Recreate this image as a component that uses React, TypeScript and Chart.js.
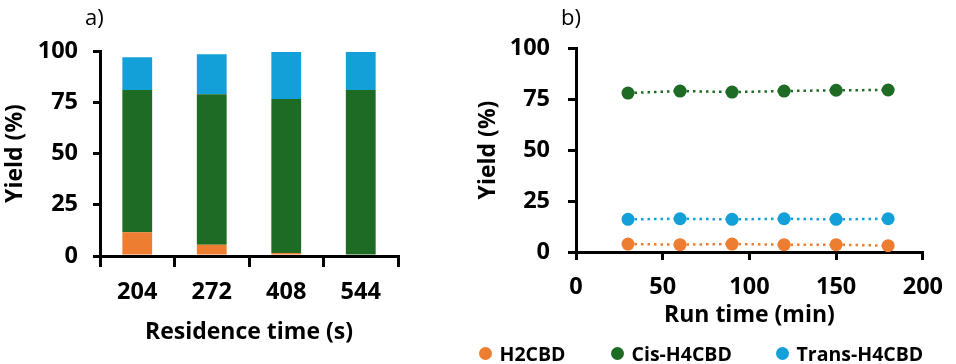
import React, { useEffect, useRef } from "react";
import { Chart, registerables } from "chart.js";

Chart.register(...registerables);

// ---- data ----
const residenceTimes = ["204", "272", "408", "544"];
const barH2CBD = [11.6, 5.5, 1.5, 0];
const barCis = [69.4, 73.4, 75.1, 81.0];
const barTrans = [16.0, 19.5, 22.9, 18.5];

const runTimes = [30, 60, 90, 120, 150, 180];
const lineH2CBD = [3.9, 3.6, 3.9, 3.6, 3.6, 3.1];
const lineCis = [77.9, 78.9, 78.4, 78.9, 79.3, 79.4];
const lineTrans = [16.0, 16.3, 16.0, 16.3, 16.0, 16.3];

const seriesNames = ["H2CBD", "Cis-H4CBD", "Trans-H4CBD"];
const seriesColors = ["#ED7D31", "#1E6B24", "#13A0D8"];

const FONT = "'Open Sans', sans-serif";
const tickFont = { family: FONT, size: 23.5, weight: "bold" as const };
const titleFont = { family: FONT, size: 23, weight: "bold" as const };

function BarPanel() {
  const ref = useRef<HTMLCanvasElement>(null);
  useEffect(() => {
    const values = [barH2CBD, barCis, barTrans];
    const chart = new Chart(ref.current!, {
      type: "bar",
      data: {
        labels: residenceTimes,
        datasets: seriesNames.map((n, i) => ({
          label: n,
          data: values[i],
          backgroundColor: seriesColors[i],
          borderWidth: 0,
          barPercentage: 0.4,
          categoryPercentage: 1,
        })),
      },
      options: {
        responsive: false,
        animation: false,
        layout: { padding: { top: 51, right: 22, left: 0, bottom: 0 } },
        plugins: { legend: { display: false }, tooltip: { enabled: false } },
        scales: {
          x: {
            stacked: true,
            grid: { display: true, drawOnChartArea: false, tickLength: 11, lineWidth: 3, color: "#000", offset: true },
            border: { display: true, color: "#000", width: 3 },
            ticks: { color: "#000", font: tickFont, padding: 11 },
            title: { display: true, text: "Residence time (s)", color: "#000", font: titleFont, padding: { top: 0, bottom: 18 } },
            afterFit: (s: any) => { s.height = 108; },
          },
          y: {
            stacked: true,
            min: 0,
            max: 100,
            grid: { display: true, drawOnChartArea: false, tickLength: 7, lineWidth: 3, color: "#000" },
            border: { display: true, color: "#000", width: 3 },
            ticks: { stepSize: 25, color: "#000", font: tickFont, padding: 15 },
            title: { display: true, text: "Yield (%)", color: "#000", font: titleFont, padding: { top: 2, bottom: 0 } },
            afterFit: (s: any) => { s.width = 100; },
          },
        },
      },
    });
    return () => chart.destroy();
  }, []);
  return <canvas ref={ref} width={420} height={364} style={{ position: "absolute", left: 0, top: 0 }} />;
}

function LinePanel() {
  const ref = useRef<HTMLCanvasElement>(null);
  useEffect(() => {
    const values = [lineH2CBD, lineCis, lineTrans];
    const chart = new Chart(ref.current!, {
      type: "line",
      data: {
        datasets: seriesNames.map((n, i) => ({
          label: n,
          data: runTimes.map((t, j) => ({ x: t, y: values[i][j] })),
          borderColor: seriesColors[i],
          backgroundColor: seriesColors[i],
          pointBackgroundColor: seriesColors[i],
          pointBorderWidth: 0,
          pointRadius: 6.5,
          borderWidth: 2.5,
          borderDash: [2.5, 4],
          showLine: true,
          fill: false,
        })),
      },
      options: {
        responsive: false,
        animation: false,
        layout: { padding: { top: 48, right: 24, left: 0, bottom: 0 } },
        plugins: { legend: { display: false }, tooltip: { enabled: false } },
        scales: {
          x: {
            type: "linear",
            min: 0,
            max: 200,
            grid: { display: true, drawOnChartArea: false, tickLength: 8, lineWidth: 3, color: "#000" },
            border: { display: true, color: "#000", width: 3 },
            ticks: { stepSize: 50, color: "#000", font: tickFont, padding: 13 },
            title: { display: true, text: "Run time (min)", color: "#000", font: titleFont, padding: { top: 0, bottom: 35 } },
            afterFit: (s: any) => { s.height = 112; },
          },
          y: {
            min: 0,
            max: 100,
            grid: { display: true, drawOnChartArea: false, tickLength: 8, lineWidth: 3, color: "#000" },
            border: { display: true, color: "#000", width: 3 },
            ticks: { stepSize: 25, color: "#000", font: tickFont, padding: 18 },
            title: { display: true, text: "Yield (%)", color: "#000", font: titleFont, padding: { top: 5, bottom: 0 } },
            afterFit: (s: any) => { s.width = 106; },
          },
        },
      },
    });
    return () => chart.destroy();
  }, []);
  return <canvas ref={ref} width={486} height={364} style={{ position: "absolute", left: 470, top: 0 }} />;
}

const legendDotX = [485, 617, 782];

export default function App() {
  return (
    <div style={{ position: "fixed", left: 0, top: 0, width: 956, height: 364, background: "#fff", overflow: "hidden" }}>
      <BarPanel />
      <LinePanel />
      <div style={{ position: "absolute", left: 85, top: 2, fontFamily: FONT, fontSize: 22, lineHeight: "28px", color: "#000" }}>a)</div>
      <div style={{ position: "absolute", left: 561, top: 2, fontFamily: FONT, fontSize: 22, lineHeight: "28px", color: "#000" }}>b)</div>
      {seriesNames.map((n, i) => (
        <div key={n} style={{ position: "absolute", left: legendDotX[i] - 6.5, top: 340, height: 26, display: "flex", alignItems: "center", fontFamily: FONT, fontSize: 19.5, fontWeight: "bold", color: "#000", whiteSpace: "nowrap" }}>
          <span style={{ display: "inline-block", width: 13, height: 13, borderRadius: "50%", background: seriesColors[i], marginRight: 8 }} />
          <span>{n}</span>
        </div>
      ))}
    </div>
  );
}
